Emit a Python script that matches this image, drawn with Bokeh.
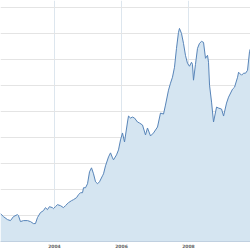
import pandas as pd
from bokeh.plotting import figure
from bokeh.models import Range1d, SingleIntervalTicker, FixedTicker, DatetimeTickFormatter, ColumnDataSource
from bokeh.embed import file_html
from bokeh.resources import INLINE

# decimal-year positions of the traced points
years = [
    2002.388, 2002.478, 2002.597, 2002.687, 2002.776, 2002.896, 2002.925, 2002.985,
    2003.075, 2003.194, 2003.284, 2003.373, 2003.433, 2003.493, 2003.582, 2003.672,
    2003.731, 2003.791, 2003.851, 2003.940, 2003.970, 2004.030, 2004.090, 2004.179,
    2004.269, 2004.328, 2004.418, 2004.507, 2004.567, 2004.657, 2004.716, 2004.776,
    2004.836, 2004.866, 2004.925, 2004.985, 2005.045, 2005.104, 2005.164, 2005.224,
    2005.284, 2005.343, 2005.433, 2005.463, 2005.522, 2005.612, 2005.672, 2005.731,
    2005.761, 2005.851, 2005.910, 2005.970, 2006.030, 2006.090, 2006.179, 2006.209,
    2006.269, 2006.328, 2006.388, 2006.478, 2006.537, 2006.627, 2006.716, 2006.776,
    2006.866, 2006.955, 2007.075, 2007.164, 2007.254, 2007.313, 2007.403, 2007.463,
    2007.522, 2007.582, 2007.642, 2007.701, 2007.731, 2007.791, 2007.851, 2007.910,
    2007.970, 2008.030, 2008.090, 2008.119, 2008.149, 2008.209, 2008.269, 2008.328,
    2008.388, 2008.448, 2008.507, 2008.567, 2008.597, 2008.627, 2008.687, 2008.746,
    2008.836, 2008.896, 2008.985, 2009.045, 2009.134, 2009.194, 2009.313, 2009.373,
    2009.463, 2009.493, 2009.582, 2009.642, 2009.701, 2009.761, 2009.821, 2009.851,
]
values = [
    10.72, 9.57, 8.43, 8.04, 9.57, 10.34, 9.96, 7.66,
    8.04, 8.04, 7.66, 6.89, 6.89, 9.19, 11.11, 11.87,
    13.02, 12.26, 13.40, 13.02, 12.64, 13.40, 14.17, 13.79,
    13.02, 13.79, 14.94, 15.70, 16.09, 16.85, 18.00, 18.77,
    18.77, 20.68, 20.68, 22.21, 26.81, 28.34, 26.04, 22.98,
    22.21, 22.98, 25.28, 26.04, 29.11, 32.55, 34.09, 32.17,
    31.41, 33.32, 35.24, 39.07, 41.75, 38.30, 45.96, 48.26,
    47.49, 47.87, 47.49, 45.96, 45.58, 44.81, 40.98, 43.66,
    40.60, 41.75, 44.04, 49.41, 49.02, 52.47, 58.21, 60.90,
    63.19, 67.02, 74.30, 80.43, 81.96, 80.05, 76.22, 71.62,
    68.56, 67.41, 68.94, 68.17, 62.05, 68.17, 74.30, 76.22,
    76.98, 76.60, 70.47, 71.62, 68.94, 60.13, 53.62, 45.96,
    51.70, 51.32, 50.94, 48.26, 53.24, 55.53, 58.60, 59.36,
    63.19, 65.11, 63.96, 64.73, 64.73, 65.87, 73.15, 74.30,
]
tick_years = [2002, 2004, 2006, 2008, 2010]


def to_ts(y):
    yi = int(y)
    start = pd.Timestamp(f"{yi}-01-01")
    end = pd.Timestamp(f"{yi + 1}-01-01")
    return start + (end - start) * (y - yi)


n = min(len(years), len(values))
src = ColumnDataSource(dict(date=[to_ts(y) for y in years[:n]], value=values[:n]))

x_start = pd.Timestamp("2002-05-23")
x_end = pd.Timestamp("2009-11-07")

p = figure(width=250, height=250, x_axis_type="datetime", output_backend="svg",
           toolbar_location=None, min_border_left=0, min_border_right=0,
           min_border_top=0, min_border_bottom=8,
           x_range=Range1d(x_start, x_end), y_range=Range1d(0, 92.7))
p.outline_line_color = None
p.background_fill_color = "white"
p.border_fill_color = "white"

p.varea(x="date", y1=0, y2="value", source=src, fill_color="#d5e5f1")
p.line(x="date", y="value", source=src, line_color="#5784b8", line_width=1)

p.yaxis.visible = False
p.ygrid.ticker = SingleIntervalTicker(interval=10)
p.ygrid.grid_line_color = "#e4e4e4"
p.ygrid.grid_line_width = 1

tick_ms = [pd.Timestamp(f"{y}-01-01").value / 1e6 for y in tick_years]
xt = FixedTicker(ticks=tick_ms)
p.xaxis.ticker = xt
p.xgrid.ticker = xt
p.xgrid.grid_line_color = "#dde6ee"
p.xaxis.formatter = DatetimeTickFormatter(years="%Y", months="%Y", days="%Y")
p.xaxis.axis_line_color = "#c0d0e0"
p.xaxis.major_tick_line_color = None
p.xaxis.minor_tick_line_color = None
p.xaxis.major_tick_out = 0
p.xaxis.major_tick_in = 0
p.xaxis.major_label_standoff = 2
p.xaxis.major_label_text_font_size = "4.5px"
p.xaxis.major_label_text_font = "DejaVu Sans"
p.xaxis.major_label_text_color = "#666666"
p.xaxis.major_label_text_font_style = "bold"

open("out.html", "w").write(file_html(p, INLINE))
